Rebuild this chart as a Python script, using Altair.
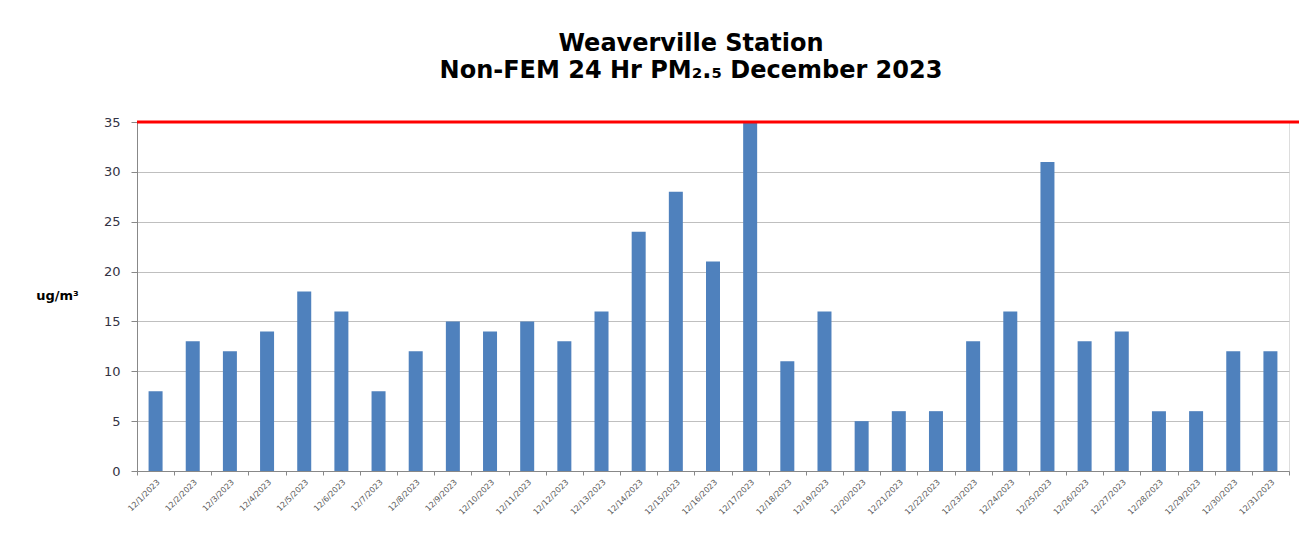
import altair as alt
import pandas as pd

dates = [f"12/{d}/2023" for d in range(1, 32)]
values = [8, 13, 12, 14, 18, 16, 8, 12, 15, 14, 15, 13, 16, 24, 28, 21, 35,
          11, 16, 5, 6, 6, 13, 16, 31, 13, 14, 6, 6, 12, 12]
y_ticks = [0, 5, 10, 15, 20, 25, 30, 35]
standard = [35]

W = 1152
H = 349

df = pd.DataFrame({"date": dates, "value": values})
std_df = pd.DataFrame({"std": standard})

bars = alt.Chart(df).mark_bar(color="#4F81BD", size=14).encode(
    x=alt.X("date:N", sort=dates,
            scale=alt.Scale(paddingInner=0, paddingOuter=0),
            axis=alt.Axis(title=None, labelAngle=-45, labelFontSize=8,
                          labelColor="#595959", labelFont="DejaVu Sans",
                          tickBand="extent", tickSize=4, tickColor="#888888",
                          domainColor="#888888", grid=False, labelPadding=3)),
    y=alt.Y("value:Q",
            scale=alt.Scale(domain=[0, 35], nice=False),
            axis=alt.Axis(values=y_ticks, title="ug/m³", titleAngle=0,
                          titleX=-80, titleY=180, titleAlign="center",
                          titleFontSize=13, titleFont="DejaVu Sans",
                          titleFontWeight="bold", titleColor="#000000",
                          labelFontSize=13, labelFont="DejaVu Sans",
                          labelColor="#333344", tickSize=6, labelPadding=11,
                          tickColor="#888888", domainColor="#888888",
                          gridColor="#bfbfbf", gridWidth=1)),
)

rule = alt.Chart(std_df).mark_rule(color="#FF0000", strokeWidth=3).encode(
    y="std:Q", x=alt.value(0), x2=alt.value(W + 10)
)

chart = alt.layer(bars, rule).properties(
    width=W,
    height=H,
    title=alt.TitleParams(
        text=["Weaverville Station", "Non-FEM 24 Hr PM₂.₅ December 2023"],
        fontSize=24, font="DejaVu Sans", fontWeight="bold", color="#000000",
        lineHeight=27, anchor="middle", dx=-22, offset=33,
    ),
    autosize=alt.AutoSizeParams(type="none"),
    padding={"left": 129, "top": 114, "right": 17, "bottom": 65},
).configure_view(strokeWidth=0, stroke="transparent").configure(background="white")

chart.save("out.html", embed_options={"renderer": "svg", "actions": False})
